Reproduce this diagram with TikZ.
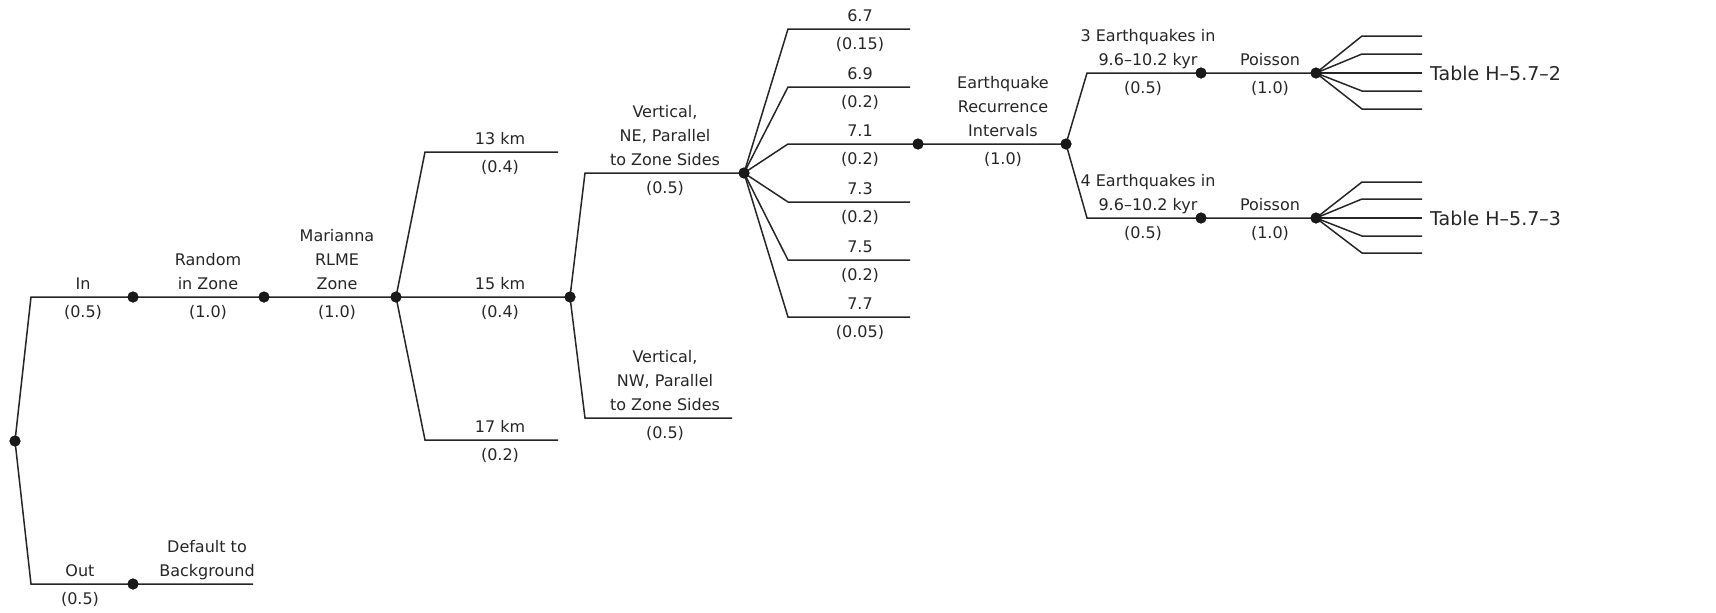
\documentclass[tikz,border=0pt]{standalone}
\usepackage{fontspec}
\setmainfont{DejaVu Sans}
\begin{document}
\begin{tikzpicture}[x=1pt,y=-1pt,
  br/.style={draw=black!85, line width=1.5pt},
  dot/.style={circle, fill=black!90, inner sep=0pt, minimum size=11pt},
  lab/.style={font=\fontsize{16}{24}\selectfont, align=center, inner sep=0pt, text=black!85},
  abv/.style={lab, anchor=south},
  blw/.style={lab, anchor=base},
  tbl/.style={font=\fontsize{19}{23}\selectfont, anchor=west, inner sep=0pt, text=black!85}]
\useasboundingbox (0,0) rectangle (1716,613);
% ---- points
\node[dot] (R) at (15,441) {};
\coordinate (cIn) at (31,297);
\node[dot] (d1) at (133,297) {};
\node[dot] (d2) at (264,297) {};
\node[dot] (d3) at (396,297) {};
\coordinate (cOut) at (31,584);
\node[dot] (dOut) at (133,584) {};
\coordinate (eOut) at (253,584);
\coordinate (c13) at (425,152); \coordinate (e13) at (558,152);
\coordinate (c17) at (425,440); \coordinate (e17) at (558,440);
\node[dot] (d4) at (570,297) {};
\coordinate (cNE) at (585,173);
\node[dot] (d5) at (744,173) {};
\coordinate (cNW) at (585,418); \coordinate (eNW) at (732,418);
\coordinate (c67) at (788,29);  \coordinate (e67) at (910,29);
\coordinate (c69) at (788,87);  \coordinate (e69) at (910,87);
\coordinate (c71) at (788,144);
\node[dot] (d6) at (918,144) {};
\coordinate (c73) at (788,202); \coordinate (e73) at (910,202);
\coordinate (c75) at (788,260); \coordinate (e75) at (910,260);
\coordinate (c77) at (788,317); \coordinate (e77) at (910,317);
\node[dot] (d7) at (1066,144) {};
\coordinate (cU) at (1087,73);
\node[dot] (d8) at (1201,73) {};
\node[dot] (d9) at (1316,73) {};
\coordinate (cL) at (1087,218);
\node[dot] (d10) at (1201,218) {};
\node[dot] (d11) at (1316,218) {};
% ---- branches
\draw[br] (R.center) -- (cIn) -- (d1.center) -- (d2.center) -- (d3.center) -- (d4.center);
\draw[br] (R.center) -- (cOut) -- (dOut.center) -- (eOut);
\draw[br] (d3.center) -- (c13) -- (e13);
\draw[br] (d3.center) -- (c17) -- (e17);
\draw[br] (d4.center) -- (cNE) -- (d5.center);
\draw[br] (d4.center) -- (cNW) -- (eNW);
\draw[br] (d5.center) -- (c67) -- (e67);
\draw[br] (d5.center) -- (c69) -- (e69);
\draw[br] (d5.center) -- (c71) -- (d6.center) -- (d7.center);
\draw[br] (d5.center) -- (c73) -- (e73);
\draw[br] (d5.center) -- (c75) -- (e75);
\draw[br] (d5.center) -- (c77) -- (e77);
\draw[br] (d7.center) -- (cU) -- (d8.center) -- (d9.center);
\draw[br] (d7.center) -- (cL) -- (d10.center) -- (d11.center);
\foreach \n/\y in {u1/36,u2/54,u4/91,u5/109}{
  \coordinate (c\n) at (1362,\y); \coordinate (e\n) at (1422,\y);
  \draw[br] (d9.center) -- (c\n) -- (e\n);}
\coordinate (eu3) at (1422,73);
\draw[br] (d9.center) -- (eu3);
\foreach \n/\y in {l1/182,l2/199,l4/236,l5/253}{
  \coordinate (c\n) at (1362,\y); \coordinate (e\n) at (1422,\y);
  \draw[br] (d11.center) -- (c\n) -- (e\n);}
\coordinate (el3) at (1422,218);
\draw[br] (d11.center) -- (el3);
% redraw dots on top
\foreach \d in {R,d1,d2,d3,dOut,d4,d5,d6,d7,d8,d9,d10,d11}{\fill[black!90] (\d) circle (5.5pt);}
% ---- labels
\node[abv] (tIn) at (83,297) {In\strut};
\node[blw] (pIn) at (83,317) {(0.5)};
\node[abv] (tRand) at (208,297) {Random\\in Zone\strut};
\node[blw] (pRand) at (208,317) {(1.0)};
\node[abv] (tMar) at (337,297) {Marianna\\RLME\\Zone\strut};
\node[blw] (pMar) at (337,317) {(1.0)};
\node[abv] (t13) at (500,152) {13 km\strut};
\node[blw] (p13) at (500,172) {(0.4)};
\node[abv] (t15) at (500,297) {15 km\strut};
\node[blw] (p15) at (500,317) {(0.4)};
\node[abv] (t17) at (500,440) {17 km\strut};
\node[blw] (p17) at (500,460) {(0.2)};
\node[abv] (tNE) at (665,173) {Vertical,\\NE, Parallel\\to Zone Sides\strut};
\node[blw] (pNE) at (665,193) {(0.5)};
\node[abv] (tNW) at (665,418) {Vertical,\\NW, Parallel\\to Zone Sides\strut};
\node[blw] (pNW) at (665,438) {(0.5)};
\node[abv] (t67) at (860,29) {6.7\strut};  \node[blw] (p67) at (860,49) {(0.15)};
\node[abv] (t69) at (860,87) {6.9\strut};  \node[blw] (p69) at (860,107) {(0.2)};
\node[abv] (t71) at (860,144) {7.1\strut}; \node[blw] (p71) at (860,164) {(0.2)};
\node[abv] (t73) at (860,202) {7.3\strut}; \node[blw] (p73) at (860,222) {(0.2)};
\node[abv] (t75) at (860,260) {7.5\strut}; \node[blw] (p75) at (860,280) {(0.2)};
\node[abv] (t77) at (860,317) {7.7\strut}; \node[blw] (p77) at (860,337) {(0.05)};
\node[abv] (tRec) at (1003,144) {Earthquake\\Recurrence\\Intervals\strut};
\node[blw] (pRec) at (1003,164) {(1.0)};
\node[abv] (tU) at (1148,73) {3 Earthquakes in\\9.6–10.2 kyr\strut};
\node[blw] (pU) at (1143,93) {(0.5)};
\node[abv] (tPU) at (1270,73) {Poisson\strut};
\node[blw] (pPU) at (1270,93) {(1.0)};
\node[abv] (tL) at (1148,218) {4 Earthquakes in\\9.6–10.2 kyr\strut};
\node[blw] (pL) at (1143,238) {(0.5)};
\node[abv] (tPL) at (1270,218) {Poisson\strut};
\node[blw] (pPL) at (1270,238) {(1.0)};
\node[tbl] (tabU) at (1430,73) {Table H–5.7–2};
\node[tbl] (tabL) at (1430,218) {Table H–5.7–3};
\node[abv] (tOut) at (80,584) {Out\strut};
\node[blw] (pOut) at (80,604) {(0.5)};
\node[abv] (tDef) at (207,584) {Default to\\Background\strut};
\end{tikzpicture}
\end{document}
